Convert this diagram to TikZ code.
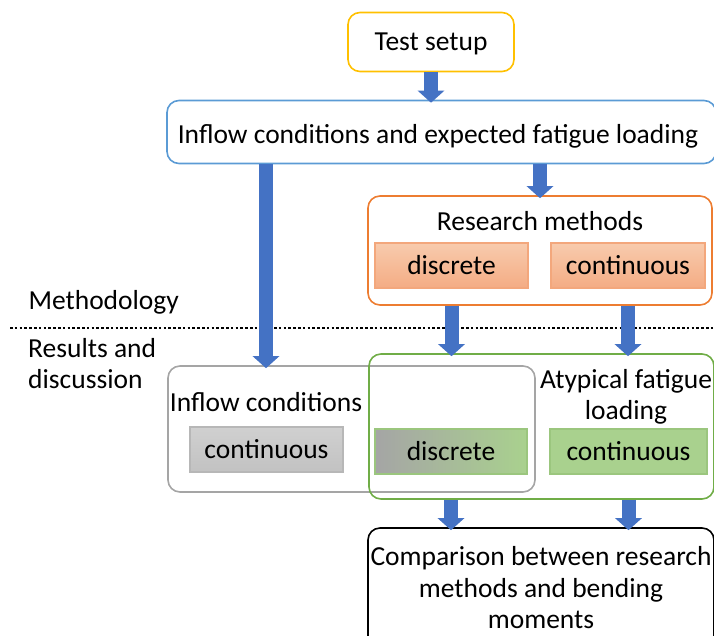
\documentclass[tikz,border=0pt]{standalone}
\usepackage{fontspec}
\setmainfont{Carlito}
\usetikzlibrary{arrows.meta,positioning,calc}
\definecolor{arr}{HTML}{4472C4}
\definecolor{gold}{HTML}{FFC000}
\definecolor{sky}{HTML}{5B9BD5}
\definecolor{org}{HTML}{ED7D31}
\definecolor{orgL}{HTML}{F8CBAD}
\definecolor{orgD}{HTML}{F4AC84}
\definecolor{gry}{HTML}{A5A5A5}
\definecolor{gryL}{HTML}{D0D0D0}
\definecolor{gryD}{HTML}{C2C2C2}
\definecolor{grn}{HTML}{70AD47}
\definecolor{grnL}{HTML}{A9D18E}
\tikzset{
  outer/.style={draw,line width=1.6pt,rounded corners=12pt,inner sep=0pt},
  inner/.style={draw,line width=1.2pt,inner sep=0pt,minimum width=153pt,minimum height=45pt},
  obox/.style={inner,draw=orgD!90!org,top color=orgL,bottom color=orgD},
  gbox/.style={inner,draw=gry!80,top color=gryL,bottom color=gryD},
  nbox/.style={inner,draw=grn!70,fill=grnL},
  blk/.style={draw=arr,line width=14pt,-{Triangle[length=12pt,width=26pt]},shorten >=-3pt},
}
\begin{document}
\begin{tikzpicture}[x=1pt,y=-1pt,font=\fontsize{27.5}{31.5}\selectfont]
  \useasboundingbox (0,0) rectangle (714,635);
  % methodology
  \node[outer,draw=gold,minimum width=166pt,minimum height=59pt] (test) at (431,42) {};
  \node (testt) at (431,44) {Test setup};
  \node[outer,draw=sky,minimum width=549pt,minimum height=63pt] (inflow) at (441.5,132) {};
  \node (inflowt) at (438,136) {Inflow conditions and expected fatigue loading};
  \node[outer,draw=org,minimum width=344pt,minimum height=109pt] (research) at (540,250.5) {};
  \node (rtitle) at (540,221) {Research methods};
  \node[obox] (rdisc) at (451.5,265.5) {discrete};
  \node[obox,minimum width=154pt] (rcont) at (628,265.5) {continuous};
  \node[anchor=west] (meth) at (25,302) {Methodology};
  \coordinate (sepL) at (10,328);
  \coordinate (sepR) at (714,328);
  \draw[line width=2.6pt,dash pattern=on 2.6pt off 2.2pt] (sepL) -- (sepR);
  % results and discussion
  \node[anchor=north west,align=left,inner sep=0pt] (res) at (28,338) {Results and\\discussion};
  \node[outer,draw=gry,minimum width=367pt,minimum height=126pt] (grey) at (351.5,429) {};
  \node (gtitle) at (266,402) {Inflow conditions};
  \node[gbox] (gcont) at (266.5,449.5) {continuous};
  \node[outer,draw=grn,minimum width=345pt,minimum height=145pt] (green) at (541.5,426.5) {};
  \node[align=center] (ntitle) at (626,397) {Atypical fatigue\\loading};
  \node[inner,draw=grn!70,left color=gry,right color=grnL,minimum width=152pt] (ddisc) at (451,451.5) {discrete};
  \node[nbox,minimum width=157pt] (dcont) at (628.5,451.5) {continuous};
  \node[outer,draw=black,minimum width=346pt,minimum height=130pt] (comp) at (541,593) {};
  \node[align=center] (ctext) at (541,588) {Comparison between research\\methods and bending\\moments};
  % flow
  \draw[blk] (test.south) -- (test.south |- inflow.north);
  \draw[blk] (rtitle |- inflow.south) -- (rtitle |- research.north);
  \draw[blk] (gtitle |- inflow.south) -- (gtitle |- grey.north);
  \draw[blk] (rdisc |- research.south) -- (rdisc |- green.north);
  \draw[blk] (rcont |- research.south) -- (rcont |- green.north);
  \draw[blk] (ddisc |- green.south) -- (ddisc |- comp.north);
  \draw[blk] (dcont |- green.south) -- (dcont |- comp.north);
\end{tikzpicture}
\end{document}
